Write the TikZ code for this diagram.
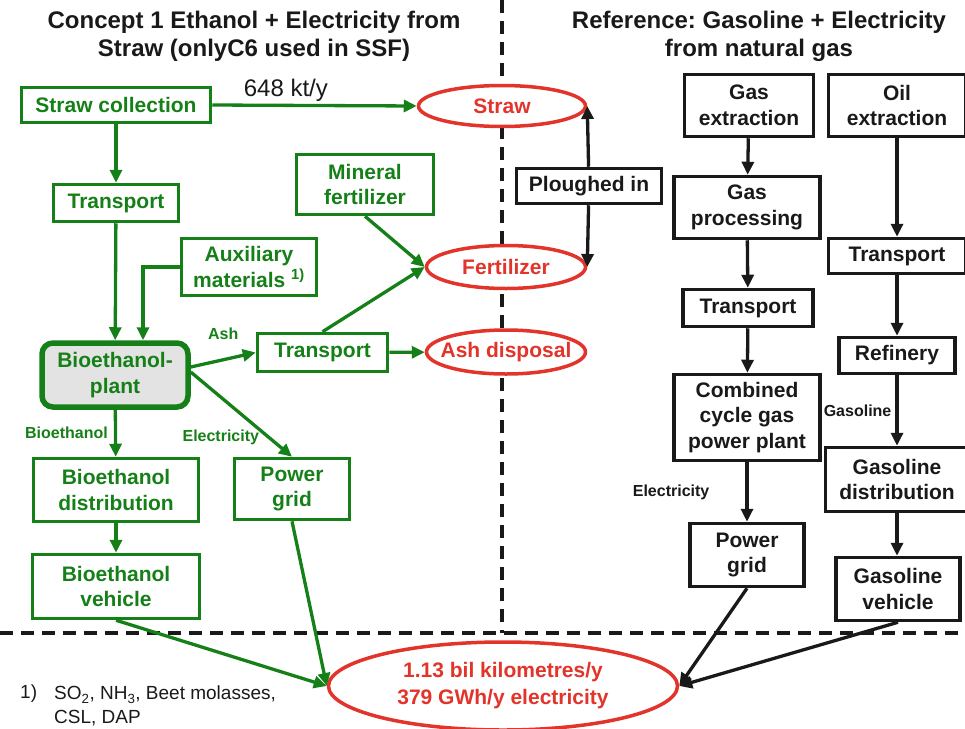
\documentclass[tikz,border=0pt]{standalone}
\usepackage{fontspec}
\setmainfont{Liberation Sans}
\frenchspacing
\usetikzlibrary{arrows.meta, shapes.geometric, positioning}
\definecolor{strawGreen}{RGB}{22,128,24}
\definecolor{flowRed}{RGB}{226,52,42}
\definecolor{plantGray}{gray}{0.89}
\definecolor{mainBlack}{gray}{0.1}

\tikzset{
  gbox/.style={draw=strawGreen, text=strawGreen, line width=3.5pt, align=center,
    font=\bfseries\fontsize{21}{25.5}\selectfont, inner sep=2pt},
  bbox/.style={gbox, draw=mainBlack, text=mainBlack},
  sink/.style={ellipse, draw=flowRed, fill=white, text=flowRed, line width=3.5pt,
    align=center, font=\bfseries\fontsize{21}{27}\selectfont, inner xsep=-10pt, inner ysep=0pt},
  garr/.style={->, draw=strawGreen, line width=3.3pt},
  barr/.style={->, draw=mainBlack, line width=3.3pt},
  flowlbl/.style={font=\bfseries\fontsize{16}{18}\selectfont, inner sep=2pt},
  divider/.style={draw=mainBlack, line width=3.5pt, dash pattern=on 13pt off 8pt},
}

\begin{document}
\begin{tikzpicture}[x=1pt, y=-1pt, >={Triangle[length=13pt,width=12pt]}]
    \clip (0,0) rectangle (965,728);

    % Dividers
    \coordinate (divtop) at (502,0);
    \coordinate (divmid) at (502,633);
    \draw[divider] (divtop) -- (divmid);
    \draw[divider] (0,633) -- (965,633);

    % Titles
    \node[font=\bfseries\fontsize{24}{28}\selectfont, text=mainBlack, align=center] (titleL) at (254,36)
        {Concept 1 Ethanol + Electricity from\\Straw (onlyC6 used in SSF)};
    \node[font=\bfseries\fontsize{24}{28}\selectfont, text=mainBlack, align=center] (titleR) at (759,36)
        {Reference: Gasoline + Electricity\\from natural gas};

    % Straw concept
    \node[gbox, minimum width=189pt, minimum height=35pt] (coll) at (116,105) {Straw collection};
    \node[gbox, minimum width=125pt, minimum height=37pt] (trans1) at (116,203) {Transport};
    \node[gbox, minimum width=137pt, minimum height=60pt] (minfert) at (365,184.5) {Mineral\\fertilizer};
    \node[gbox, minimum width=135pt, minimum height=57pt] (aux) at (249,267) {Auxiliary\\materials \textsuperscript{1)}};
    \node[gbox, line width=5.5pt, rounded corners=11pt, fill=plantGray, minimum width=146pt, minimum height=64pt] (plant) at (115,375) {Bioethanol-\\plant};
    \node[gbox, minimum width=130pt, minimum height=38pt] (trans2) at (322.5,352.5) {Transport};
    \node[gbox, minimum width=165pt, minimum height=63pt] (biodist) at (116,490) {Bioethanol\\distribution};
    \node[gbox, minimum width=115pt, minimum height=61pt] (ggrid) at (292,489) {Power\\grid};
    \node[gbox, minimum width=167pt, minimum height=64pt] (biovh) at (116,586.5) {Bioethanol\\vehicle};

    % Sinks
    \node[sink, minimum width=167pt, minimum height=41pt] (straw) at (502,106) {Straw};
    \node[sink, minimum width=159pt, minimum height=43pt] (fert) at (506,267) {Fertilizer};
    \node[sink, minimum width=159pt, minimum height=44pt] (ash) at (506,352) {Ash disposal};
    \node[sink, minimum width=349pt, minimum height=88pt] (km) at (503,686) {1.13 bil kilometres/y\\379 GWh/y electricity};

    % Reference system
    \node[bbox, minimum width=145pt, minimum height=35pt] (plough) at (589,186) {Ploughed in};
    \node[bbox, minimum width=129pt, minimum height=62pt] (gasx) at (749,105.5) {Gas\\extraction};
    \node[bbox, minimum width=137pt, minimum height=62pt] (oilx) at (897,105.5) {Oil\\extraction};
    \node[bbox, minimum width=146pt, minimum height=62pt] (gasp) at (747,207.5) {Gas\\processing};
    \node[bbox, minimum width=137pt, minimum height=35pt] (trans4) at (897,256) {Transport};
    \node[bbox, minimum width=130pt, minimum height=37pt] (trans3) at (748,308) {Transport};
    \node[bbox, minimum width=116pt, minimum height=36pt] (refin) at (897,355.5) {Refinery};
    \node[bbox, minimum width=146pt, minimum height=86pt] (ccgt) at (747,417.5) {Combined\\cycle gas\\power plant};
    \node[bbox, minimum width=143pt, minimum height=64pt] (gasdist) at (897,479.5) {Gasoline\\distribution};
    \node[bbox, minimum width=114pt, minimum height=63pt] (bgrid) at (747,555) {Power\\grid};
    \node[bbox, minimum width=124pt, minimum height=63pt] (gasvh) at (898,589) {Gasoline\\vehicle};

    % Green flows
    \draw[garr] (coll.east) -- node[pos=0.36, above, inner sep=2pt, text=mainBlack, font=\fontsize{24}{28}\selectfont] {648 kt/y} (straw.west);
    \draw[garr] (coll) -- (trans1);
    \draw[garr] (trans1) -- (plant);
    \draw[garr] (aux.west) -| ([xshift=28pt]plant.north);
    \draw[garr] (minfert.south) -- (fert.west);
    \draw[garr] (trans2.north) -- (fert.west);
    \draw[garr] ([yshift=8pt]plant.east) -- node[flowlbl, text=strawGreen, midway, above=16pt] {Ash} (trans2.west);
    \draw[garr] (trans2) -- (ash);
    \draw[garr] ([yshift=3pt]plant.east) -- node[flowlbl, text=strawGreen, pos=0.77, left=6pt] {Electricity} (ggrid.north);
    \draw[garr] (plant) -- node[flowlbl, text=strawGreen, midway, left=4pt] {Bioethanol} (biodist);
    \draw[garr] (biodist) -- (biovh);
    \draw[garr] (biovh.south) -- (km.west);
    \draw[garr] (ggrid.south) -- (km.west);

    % Black flows
    \draw[barr] (plough) -- (straw.east);
    \draw[barr] (plough) -- (fert.east);
    \draw[barr] (gasx) -- (gasp);
    \draw[barr] (gasp) -- (trans3);
    \draw[barr] (trans3) -- (ccgt);
    \draw[barr] (ccgt) -- node[flowlbl, text=mainBlack, midway, left=34pt] {Electricity} (bgrid);
    \draw[barr] (oilx) -- (trans4);
    \draw[barr] (trans4) -- (refin);
    \draw[barr] (refin) -- node[flowlbl, text=mainBlack, midway, left=2pt] {Gasoline} (gasdist);
    \draw[barr] (gasdist.south) -- (gasdist.south |- gasvh.north);
    \draw[barr] (bgrid.south) -- (km.east);
    \draw[barr] (gasvh.south) -- (km.east);

    % Footnote
    \node[anchor=west, text=mainBlack, font=\fontsize{19}{24}\selectfont, inner sep=0pt] (fnmark) at (20,694) {1)};
    \node[anchor=west, text=mainBlack, font=\fontsize{19}{24}\selectfont, align=left, inner sep=0pt] (fntext) at (54,706)
        {SO\textsubscript{2}, NH\textsubscript{3}, Beet molasses,\\CSL, DAP};
\end{tikzpicture}
\end{document}
